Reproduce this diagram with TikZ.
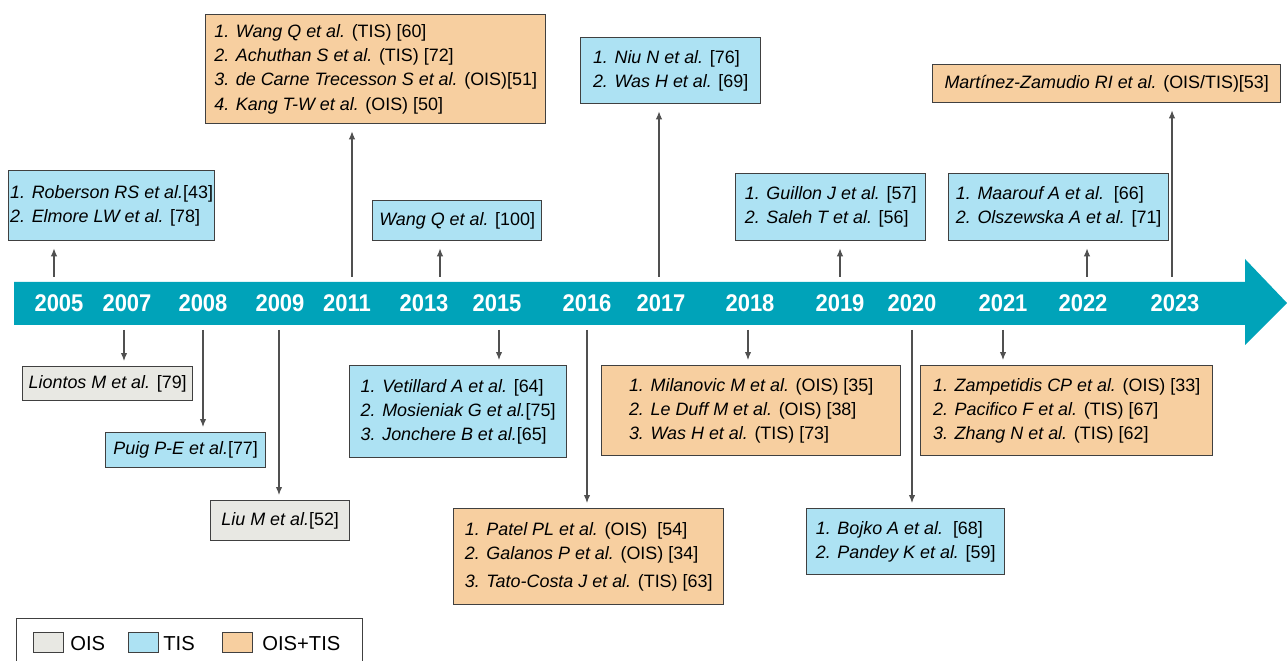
\documentclass[tikz,border=0pt]{standalone}
\usepackage{fontspec}
\setmainfont{Liberation Sans}
\usetikzlibrary{arrows.meta}
\definecolor{barc}{HTML}{00A3B9}
\definecolor{oisc}{HTML}{E8E8E3}
\definecolor{tisc}{HTML}{ADE2F3}
\definecolor{bothc}{HTML}{F7CFA0}
\definecolor{boxline}{HTML}{404040}
\definecolor{linec}{HTML}{505050}
\begin{document}
\begin{tikzpicture}[x=0.02cm,y=-0.02cm,
  box/.style={draw=boxline, line width=0.8pt, anchor=north west, inner xsep=0.03cm, inner ysep=0pt,
    font=\fontsize{10.2}{13.8}\selectfont, align=left},
  oisbox/.style={box, fill=oisc},
  tisbox/.style={box, fill=tisc},
  bothbox/.style={box, fill=bothc},
  conn/.style={draw=linec, line width=0.6pt, -{Latex[length=4.5pt,width=3.6pt]}, shorten >=0.14cm},
  year/.style={text=white, font=\fontsize{12.5}{12.5}\selectfont\bfseries, inner sep=0pt, yscale=1.1},
  legtext/.style={font=\fontsize{11.5}{12}\selectfont, anchor=west, inner sep=0pt},
  swatch/.style={draw=boxline, line width=0.6pt, minimum width=0.6cm, minimum height=0.4cm, inner sep=0pt, anchor=north west}]
\clip (0,0) rectangle (1287,661);
\fill[white] (0,0) rectangle (1287,661);

% timeline bar
\fill[barc] (14,282) -- (1245,282) -- (1245,259) -- (1287,303) -- (1245,345) -- (1245,325) -- (14,325) -- cycle;

% years
\node[year] (y2005) at (59,303) {2005};
\node[year] (y2007) at (127,303) {2007};
\node[year] (y2008) at (203,303) {2008};
\node[year] (y2009) at (280,303) {2009};
\node[year] (y2011) at (347,303) {2011};
\node[year] (y2013) at (424,303) {2013};
\node[year] (y2015) at (497,303) {2015};
\node[year] (y2016) at (587,303) {2016};
\node[year] (y2017) at (661,303) {2017};
\node[year] (y2018) at (750,303) {2018};
\node[year] (y2019) at (840,303) {2019};
\node[year] (y2020) at (912,303) {2020};
\node[year] (y2021) at (1003,303) {2021};
\node[year] (y2022) at (1083,303) {2022};
\node[year] (y2023) at (1175,303) {2023};

% boxes above
\node[tisbox, minimum width=4.08cm, minimum height=1.40cm] (b2005) at (8,170)
  {{\itshape 1. Roberson RS et al.}[43]\\{\itshape 2. Elmore LW et al.} [78]};
\node[bothbox, minimum width=6.8cm, minimum height=2.18cm] (b2011) at (205,14)
  {{\itshape 1. Wang Q et al.} (TIS) [60]\\{\itshape 2. Achuthan S et al.} (TIS) [72]\\{\itshape 3. de Carne Trecesson S et al.} (OIS)[51]\\{\itshape 4. Kang T-W et al.} (OIS) [50]};
\node[tisbox, minimum width=3.38cm, minimum height=0.8cm] (b2013) at (372,200)
  {{\itshape Wang Q et al.} [100]};
\node[tisbox, minimum width=3.6cm, minimum height=1.32cm] (b2017) at (580,37)
  {{\itshape 1. Niu N et al.} [76]\\{\itshape 2. Was H et al.} [69]};
\node[tisbox, minimum width=3.8cm, minimum height=1.34cm] (b2019) at (735,173)
  {{\itshape 1. Guillon J et al.} [57]\\{\itshape 2. Saleh T et al.} [56]};
\node[tisbox, minimum width=4.4cm, minimum height=1.34cm] (b2022) at (948,173)
  {{\itshape 1. Maarouf A et al.}\ \ [66]\\{\itshape 2. Olszewska A et al.} [71]};
\node[bothbox, minimum width=6.96cm, minimum height=0.76cm] (b2023) at (932,64)
  {{\itshape Martínez-Zamudio RI et al.} (OIS/TIS)[53]};

% boxes below
\node[oisbox, minimum width=3.4cm, minimum height=0.68cm] (b2007) at (22,366)
  {{\itshape Liontos M et al.} [79]};
\node[tisbox, minimum width=3.2cm, minimum height=0.7cm] (b2008) at (105,432)
  {{\itshape Puig P-E et al.}[77]};
\node[oisbox, minimum width=2.78cm, minimum height=0.8cm] (b2009) at (210,500)
  {{\itshape Liu M et al.}[52]};
\node[tisbox, minimum width=4.34cm, minimum height=1.84cm] (b2015) at (349,365)
  {{\itshape 1. Vetillard A et al.} [64]\\{\itshape 2. Mosieniak G et al.}[75]\\{\itshape 3. Jonchere B et al.}[65]};
\node[bothbox, minimum width=5.4cm, minimum height=1.92cm] (b2016) at (453,508)
  {{\itshape 1. Patel PL et al.} (OIS)\ \ [54]\\{\itshape 2. Galanos P et al.} (OIS) [34]\\[2pt]{\itshape 3. Tato-Costa J et al.} (TIS) [63]};
\node[bothbox, minimum width=5.98cm, minimum height=1.8cm] (b2018) at (601,365)
  {{\itshape 1. Milanovic M et al.} (OIS) [35]\\{\itshape 2. Le Duff M et al.} (OIS) [38]\\{\itshape 3. Was H et al.} (TIS) [73]};
\node[tisbox, minimum width=3.96cm, minimum height=1.32cm] (b2020) at (806,508)
  {{\itshape 1. Bojko A et al.}\ \ [68]\\{\itshape 2. Pandey K et al.} [59]};
\node[bothbox, minimum width=5.84cm, minimum height=1.8cm] (b2021) at (920,365)
  {{\itshape 1. Zampetidis CP et al.} (OIS) [33]\\{\itshape 2. Pacifico F et al.} (TIS) [67]\\{\itshape 3. Zhang N et al.} (TIS) [62]};

% connector start points on the bar
\coordinate (a2005) at (54,277);
\coordinate (a2011) at (352,277);
\coordinate (a2013) at (440,277);
\coordinate (a2017) at (659,277);
\coordinate (a2019) at (840,277);
\coordinate (a2022) at (1087,277);
\coordinate (a2023) at (1172,277);
\coordinate (a2007) at (124,330);
\coordinate (a2008) at (203,330);
\coordinate (a2009) at (279,330);
\coordinate (a2015) at (499,330);
\coordinate (a2016) at (587,330);
\coordinate (a2018) at (748,330);
\coordinate (a2020) at (912,330);
\coordinate (a2021) at (1003,330);

\foreach \y in {2005,2011,2013,2017,2019,2022,2023}
  \draw[conn] (a\y) -- (a\y |- b\y.south);
\foreach \y in {2007,2008,2009,2015,2016,2018,2020,2021}
  \draw[conn, shorten >=0.1cm] (a\y) -- (a\y |- b\y.north);

% legend
\node[draw=boxline, line width=0.8pt, fill=white, anchor=north west, minimum width=6.92cm, minimum height=1.2cm, inner sep=0pt] (legend) at (16,618) {};
\node[swatch, fill=oisc] (s1) at (33,632) {};
\node[legtext] (l1) at (70,644) {OIS};
\node[swatch, fill=tisc] (s2) at (128,632) {};
\node[legtext] (l2) at (163,644) {TIS};
\node[swatch, fill=bothc] (s3) at (222,632) {};
\node[legtext] (l3) at (262,644) {OIS+TIS};
\end{tikzpicture}
\end{document}
